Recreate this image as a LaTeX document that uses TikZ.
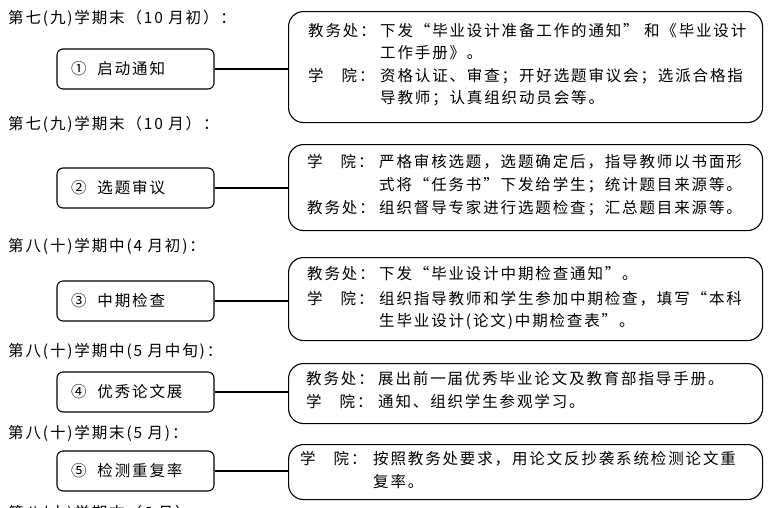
\documentclass[tikz,border=0pt]{standalone}
\usepackage{fontspec}
\setmainfont{Noto Sans CJK SC}[LetterSpace=12]
\newcommand\fs{\fontsize{15.5pt}{20pt}\selectfont}
\newcommand\jwc{教务处：}
\newcommand\xyy{学\hspace{18pt}院：}
\newcommand\cnum[1]{#1\hspace{11pt}}
\begin{document}
\begin{tikzpicture}[x=1pt,y=-1pt,
  stage/.style={draw, line width=1.1pt, rounded corners=6pt, minimum width=157pt,
    minimum height=40pt, text width=129pt, align=left, inner xsep=14pt, inner ysep=0pt, font=\fs},
  detail/.style={draw, line width=1.1pt, rounded corners=15pt, anchor=north west,
    inner sep=0pt, minimum width=474pt},
  txt/.style={anchor=base west, inner sep=0pt, font=\fs},
  link/.style={line width=1.1pt}]
\useasboundingbox (0,0) rectangle (777,507);

% headers
\node[txt] (h1) at (8,23.5) {第七(九)学期末（10 月初）：};
\node[txt] (h2) at (8,129) {第七(九)学期末（10 月）：};
\node[txt] (h3) at (8,251) {第八(十)学期中(4 月初)：};
\node[txt] (h4) at (8,356) {第八(十)学期中(5 月中旬)：};
\node[txt] (h5) at (8,438.5) {第八(十)学期末(5 月)：};
\node[txt] (h6) at (8,518) {第八(十)学期末（6 月）：};

% stage boxes
\node[stage] (b1) at (135.5,69) {\cnum{①}启动通知};
\node[stage] (b2) at (135.5,188) {\cnum{②}选题审议};
\node[stage] (b3) at (135.5,301) {\cnum{③}中期检查};
\node[stage] (b4) at (135.5,392) {\cnum{④}优秀论文展};
\node[stage] (b5) at (135.5,471) {\cnum{⑤}检测重复率};

% detail boxes
\node[detail, minimum height=111pt] (r1) at (288,11) {};
\node[detail, minimum height=86pt] (r2) at (288,144) {};
\node[detail, minimum height=83pt] (r3) at (288,257) {};
\node[detail, minimum height=60pt] (r4) at (288,363) {};
\node[detail, minimum height=55pt] (r5) at (288,444) {};

% connectors
\draw[link] (b1.east) -- (b1.east -| r1.west);
\draw[link] (b2.east) -- (b2.east -| r2.west);
\draw[link] (b3.east) -- (b3.east -| r3.west);
\draw[link] (b4.east) -- (b4.east -| r4.west);
\draw[link] (b5.east) -- (b5.east -| r5.west);

% box 1 text
\node[txt] (l11) at (308,36.4) {\jwc};
\node[txt] (t11) at (380,36.4) {下发“毕业设计准备工作的通知” 和《毕业设计};
\node[txt] (t12) at (380,58.4) {工作手册》。};
\node[txt] (l13) at (308,81.4) {\xyy};
\node[txt] (t13) at (380,81.4) {资格认证、审查；开好选题审议会；选派合格指};
\node[txt] (t14) at (380,103.4) {导教师；认真组织动员会等。};

% box 2 text
\node[txt] (l21) at (307,167) {\xyy};
\node[txt] (t21) at (379,167) {严格审核选题，选题确定后，指导教师以书面形};
\node[txt] (t22) at (379,190) {式将“任务书”下发给学生；统计题目来源等。};
\node[txt] (l23) at (307,213) {\jwc};
\node[txt] (t23) at (379,213) {组织督导专家进行选题检查；汇总题目来源等。};

% box 3 text
\node[txt] (l31) at (307,279.5) {\jwc};
\node[txt] (t31) at (379,279.5) {下发“毕业设计中期检查通知”。};
\node[txt] (l32) at (307,304) {\xyy};
\node[txt] (t32) at (379,304) {组织指导教师和学生参加中期检查，填写“本科};
\node[txt] (t33) at (379,326) {生毕业设计(论文)中期检查表”。};

% box 4 text
\node[txt] (l41) at (306,384) {\jwc};
\node[txt] (t41) at (378,384) {展出前一届优秀毕业论文及教育部指导手册。};
\node[txt] (l42) at (306,407.5) {\xyy};
\node[txt] (t42) at (378,407.5) {通知、组织学生参观学习。};

% box 5 text
\node[txt] (l51) at (300,464.5) {\xyy};
\node[txt] (t51) at (373,464.5) {按照教务处要求，用论文反抄袭系统检测论文重};
\node[txt] (t52) at (373,487.5) {复率。};
\end{tikzpicture}
\end{document}
